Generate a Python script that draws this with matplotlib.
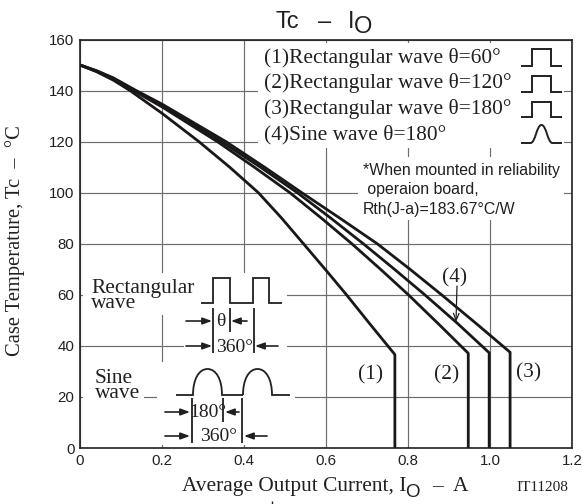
import matplotlib
matplotlib.use("Agg")
import matplotlib.pyplot as plt
from matplotlib.path import Path
from matplotlib.patches import PathPatch, Rectangle
from matplotlib.transforms import Affine2D

W, H = 587, 504
SANS = "Liberation Sans"
SERIF = "Liberation Serif"
INK = "#231f20"
GRID = "#6d6d6d"

# Series values
i1 = [0, .04, .081, .122, .2, .29, .365, .435, .492, .545, .598, .65, .71, .768, .768]
t1 = [150, 147.4, 144.1, 140, 131.1, 120, 110, 100, 90, 80, 70, 60, 48, 36.6, 0]
i2 = [0, .04, .081, .13, .2, .335, .425, .512, .589, .663, .733, .801, .875, .947, .947]
t2 = [150, 147.6, 144.5, 140, 133.6, 120, 110, 100, 90, 80, 70, 60, 48.5, 37.1, 0]
i4 = [0, .04, .081, .134, .2, .345, .44, .53, .612, .691, .767, .841, .92, .998, .998]
t4 = [150, 147.7, 144.8, 140, 134.4, 120, 110, 100, 90, 80, 70, 60, 48.9, 37.3, 0]
i3 = [0, .04, .081, .137, .2, .356, .45, .541, .634, .725, .805, .882, .966, 1.049, 1.049]
t3 = [150, 147.8, 145, 140, 134.7, 120, 110, 100, 90, 80, 70, 60, 48.8, 37.5, 0]
xticks = [0, .2, .4, .6, .8, 1.0, 1.2]
xticklabels = ["0", "0.2", "0.4", "0.6", "0.8", "1.0", "1.2"]
yticks = [0, 20, 40, 60, 80, 100, 120, 140, 160]
legend_rows = ["(1)Rectangular wave θ=60°", "(2)Rectangular wave θ=120°",
               "(3)Rectangular wave θ=180°", "(4)Sine wave θ=180°"]
note_rows = ["*When mounted in reliability", " operaion board,", "Rth(J-a)=183.67°C/W"]

fig = plt.figure(figsize=(W / 100, H / 100), dpi=100)
ax = fig.add_axes([80 / W, 1 - 448 / H, (572 - 80) / W, (448 - 39.5) / H])
ax.set_xlim(0, 1.2)
ax.set_ylim(0, 160)
ax.set_xticks(xticks, xticklabels, fontname=SANS, fontsize=10.8, color=INK)
ax.set_yticks(yticks, [str(v) for v in yticks], fontname=SANS, fontsize=10.8, color=INK)
ax.tick_params(length=0, pad=4)
ax.grid(True, color=GRID, lw=0.85, zorder=1)
ax.set_axisbelow(True)
for s in ax.spines.values():
    s.set_color(INK)
    s.set_linewidth(1.2)
    s.set_zorder(6)

px = Affine2D().scale(1, -1).translate(0, H)

for x0, y0, x1, y1 in [(258, 43, 564, 148), (358, 157, 564, 220),
                       (83, 273, 287, 315), (190, 315, 287, 337), (184, 337, 287, 362),
                       (83, 370, 144, 408), (157, 362, 295, 445), (83, 408, 295, 445)]:
    ax.add_patch(Rectangle((x0, y0), x1 - x0, y1 - y0, transform=px, fc="white", ec="none", zorder=2))

for xs, ys in [(i1, t1), (i2, t2), (i4, t4), (i3, t3)]:
    ax.plot(xs, ys, color="#1a1718", lw=2.0, solid_joinstyle="round", zorder=3)


def ptext(x, y, s, font=SERIF, size=15.4, ha="left", rot=0, va="baseline", **kw):
    ax.text(x, y, s, transform=px, fontname=font, fontsize=size, ha=ha, va=va,
            rotation=rot, color=INK, zorder=5, clip_on=False, **kw)


def pline(xs, ys, lw=1.3):
    ax.plot(xs, ys, transform=px, color=INK, lw=lw, zorder=4, clip_on=False,
            solid_joinstyle="miter", solid_capstyle="butt")


def arrow(x0, x1, y, lw=1.2):
    ax.annotate("", xy=(x1, y), xytext=(x0, y), xycoords=px, textcoords=px, zorder=4,
                arrowprops=dict(arrowstyle="-|>,head_length=0.55,head_width=0.2", color=INK,
                                lw=lw, shrinkA=0, shrinkB=0))


def arch(x0, x1, base, top, lead0, lead1, lw=1.3):
    w, h = x1 - x0, base - top
    v = [(lead0, base), (x0, base), (x0, base - .6 * h), (x0 + .2 * w, top), (x0 + .5 * w, top),
         (x0 + .8 * w, top), (x1, base - .6 * h), (x1, base), (lead1, base)]
    c = [Path.MOVETO, Path.LINETO] + [Path.CURVE4] * 6 + [Path.LINETO]
    ax.add_patch(PathPatch(Path(v, c), transform=px, fc="none", ec=INK, lw=lw, zorder=4, clip_on=False))


def bell(x0, x1, base, top, lw=1.4):
    m = (x0 + x1) / 2
    v = [(x0, base), (m - 11, base), (m - 6, base), (m - 5, top), (m, top),
         (m + 5, top), (m + 6, base), (m + 11, base), (x1, base)]
    c = [Path.MOVETO, Path.LINETO] + [Path.CURVE4] * 6 + [Path.LINETO]
    ax.add_patch(PathPatch(Path(v, c), transform=px, fc="none", ec=INK, lw=lw, zorder=4, clip_on=False))


# title
ptext(275, 28, "Tc", SANS, 17)
ptext(318, 28, "–", SANS, 17)
ptext(348, 28, "I", SANS, 17)
ptext(354, 33, "O", SANS, 17)

# axis labels
ptext(182, 491, "Average Output Current, I", SERIF, 15.4)
ptext(405, 497, "O", SANS, 13.5)
ptext(432, 491, "–", SERIF, 15.4)
ptext(453, 491, "A", SERIF, 15.4)
ptext(516, 491, "IT11208", SERIF, 11)
ptext(15, 241, "Case Temperature, Tc  –  °C", SERIF, 14.8, ha="center", rot=90, va="center")
pline([272, 272], [501, 504], 1.0)

# legend rows and glyphs
for row, base in zip(legend_rows, [63, 88, 114, 139]):
    ptext(264, base, row)
for base, top in [(66, 49), (92, 76), (117, 102)]:
    pline([521, 532, 532, 551, 551, 562], [base, base, top, top, base, base], 1.4)
bell(521, 562, 143, 125)

for row, base in zip(note_rows, [175, 194, 214]):
    ptext(363, base, row, SANS, 11.4)

# curve labels
ptext(455, 282, "(4)", ha="center")
ptext(371, 379, "(1)", ha="center")
ptext(447, 379, "(2)", ha="center")
ptext(529, 377, "(3)", ha="center")
ax.annotate("", xy=(456, 322), xytext=(457, 286), xycoords=px, textcoords=px, zorder=5,
            arrowprops=dict(arrowstyle="->,head_length=0.5,head_width=0.2", color=INK, lw=0.9,
                            shrinkA=0, shrinkB=0))

# rectangular inset
ptext(91, 279, "Rectangular\nwave", va="top", linespacing=0.75)
pline([201, 213, 213, 230, 230, 253, 253, 269, 269, 282],
      [303, 303, 278, 278, 303, 303, 278, 278, 303, 303])
pline([213, 213], [308, 353])
pline([230, 230], [308, 332])
pline([254, 254], [308, 353])
arrow(186, 212, 321)
arrow(247, 231, 321)
ptext(221, 326, "θ", size=14, ha="center")
arrow(186, 212, 346)
arrow(278, 255, 346)
ptext(235, 352, "360°", size=14, ha="center")

# sine inset
ptext(95, 369, "Sine\nwave", va="top", linespacing=0.75)
arch(193, 222, 395, 369, 176, 243)
arch(243, 272, 395, 369, 243, 290)
pline([192, 192], [398, 443])
pline([223, 223], [398, 422])
pline([242, 242], [398, 443])
arrow(165, 190, 412)
arrow(239, 225, 412)
ptext(208, 417, "180°", size=14, ha="center")
arrow(165, 190, 436)
arrow(267, 244, 436)
ptext(219, 441, "360°", size=14, ha="center")

fig.savefig("out.png", dpi=100)
